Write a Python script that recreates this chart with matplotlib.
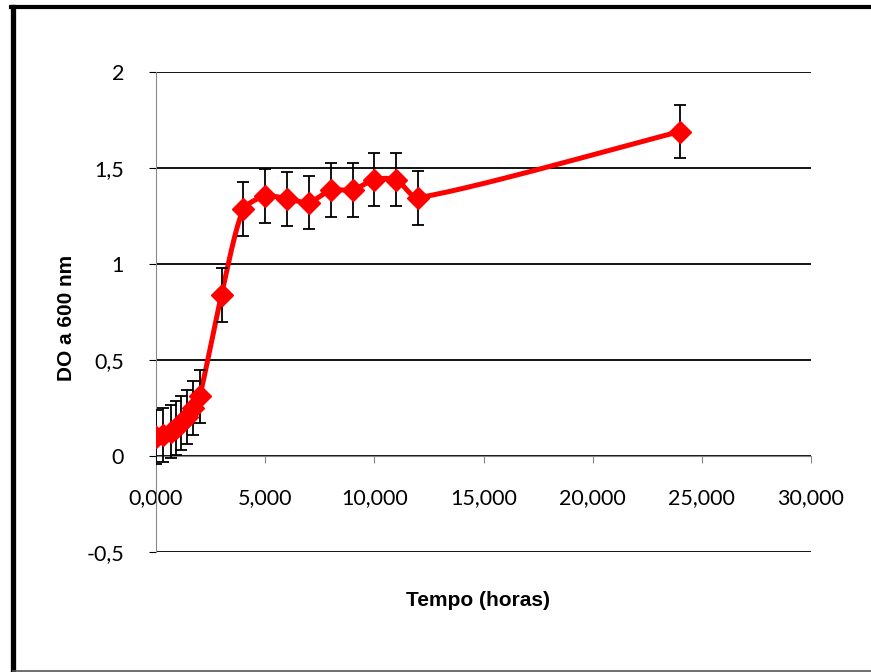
import numpy as np
import matplotlib
matplotlib.use("Agg")
import matplotlib.pyplot as plt
from matplotlib.lines import Line2D
from matplotlib.ticker import FixedLocator, FuncFormatter

# tempo (horas) e densidade optica
tempo = [0.0, 0.33, 0.67, 0.9, 1.15, 1.4, 1.7, 2.0, 3, 4, 5, 6, 7, 8, 9, 10, 11, 12, 24]
do600 = [0.10, 0.11, 0.127, 0.146, 0.17, 0.205, 0.25, 0.31, 0.84, 1.285, 1.354, 1.34,
         1.32, 1.385, 1.385, 1.44, 1.44, 1.345, 1.69]
erro = [0.14, 0.14, 0.14, 0.14, 0.14, 0.14, 0.14, 0.14, 0.14, 0.14, 0.14, 0.14,
        0.14, 0.14, 0.14, 0.14, 0.14, 0.14, 0.14]

x_ticks = [0, 5, 10, 15, 20, 25, 30]
y_ticks = [-0.5, 0, 0.5, 1, 1.5, 2]


def smooth_curve(x, y, sx=1.0, sy=1.0, tension=0.5, n=30):
    # bezier through the points, like the excel "smoothed line"
    # sx, sy put both axes on the same (pixel) scale first
    p = np.column_stack([np.asarray(x, float) * sx, np.asarray(y, float) * sy])
    tang = np.zeros_like(p)
    for i in range(len(p)):
        a = p[max(i - 1, 0)]
        b = p[min(i + 1, len(p) - 1)]
        d = b - a
        tang[i] = d / (np.linalg.norm(d) + 1e-9)
    t = np.linspace(0, 1, n)[:, None]
    out = []
    for i in range(len(p) - 1):
        p1, p2 = p[i], p[i + 1]
        L = np.linalg.norm(p2 - p1)
        c1 = p1 + tang[i] * L * tension / 1.5
        c2 = p2 - tang[i + 1] * L * tension / 1.5
        out.append((1 - t) ** 3 * p1 + 3 * (1 - t) ** 2 * t * c1
                   + 3 * (1 - t) * t ** 2 * c2 + t ** 3 * p2)
    out = np.vstack(out)
    return out[:, 0] / sx, out[:, 1] / sy


fig = plt.figure(figsize=(8.71, 6.72), dpi=100)
ax = fig.add_axes([156 / 871, 120 / 672, 655 / 871, 480 / 672])

ax.set_xlim(0, 30)
ax.set_ylim(-0.5, 2)

for yv in y_ticks:
    ax.axhline(yv, color="black", lw=1.3, zorder=1)

cx, cy = smooth_curve(tempo, do600, sx=655 / 30, sy=480 / 2.5, tension=0.35)
ax.plot(cx, cy, color="#ff0000", lw=3.6, zorder=3, solid_capstyle="round")
ax.errorbar(tempo, do600, yerr=erro, fmt="none", ecolor="black", elinewidth=1.3,
            capsize=4.5, capthick=1.3, zorder=4)
ax.plot(tempo, do600, linestyle="none", marker="D", markersize=11,
        color="#ff0000", zorder=5)

for side in ["top", "right"]:
    ax.spines[side].set_visible(False)
ax.spines["left"].set_color("#888888")
ax.spines["bottom"].set_color("#888888")
ax.spines["bottom"].set_position(("data", 0))

ax.xaxis.set_major_locator(FixedLocator(x_ticks))
ax.yaxis.set_major_locator(FixedLocator(y_ticks))
ax.xaxis.set_major_formatter(FuncFormatter(lambda v, p: f"{v:.3f}".replace(".", ",")))
ax.yaxis.set_major_formatter(FuncFormatter(lambda v, p: f"{v:g}".replace(".", ",")))
ax.tick_params(axis="x", direction="out", length=5, color="#888888", pad=18,
               labelsize=15.5)
ax.tick_params(axis="y", direction="out", length=5, color="black", pad=18,
               labelsize=15.5)
for lab in ax.get_xticklabels() + ax.get_yticklabels():
    lab.set_fontfamily("Lato")

fig.text(478 / 871, 1 - 601 / 672, "Tempo (horas)", ha="center", va="center",
         fontsize=15, fontweight="bold", family="Liberation Sans")
fig.text(66 / 871, 1 - 318 / 672, "DO a 600 nm", ha="center", va="center",
         rotation=90, fontsize=15, fontweight="bold", family="Liberation Sans")

# moldura do grafico
fig.add_artist(Line2D([12.5 / 871, 12.5 / 871], [1 - 7 / 672, 1 / 672],
                      color="black", lw=3.8, transform=fig.transFigure))
fig.add_artist(Line2D([10.5 / 871, 1.0], [1 - 7 / 672, 1 - 7 / 672],
                      color="black", lw=3.0, transform=fig.transFigure))
fig.add_artist(Line2D([12.5 / 871, 1.0], [1.2 / 672, 1.2 / 672],
                      color="#555555", lw=1.2, transform=fig.transFigure))

fig.savefig("out.png", dpi=100)
